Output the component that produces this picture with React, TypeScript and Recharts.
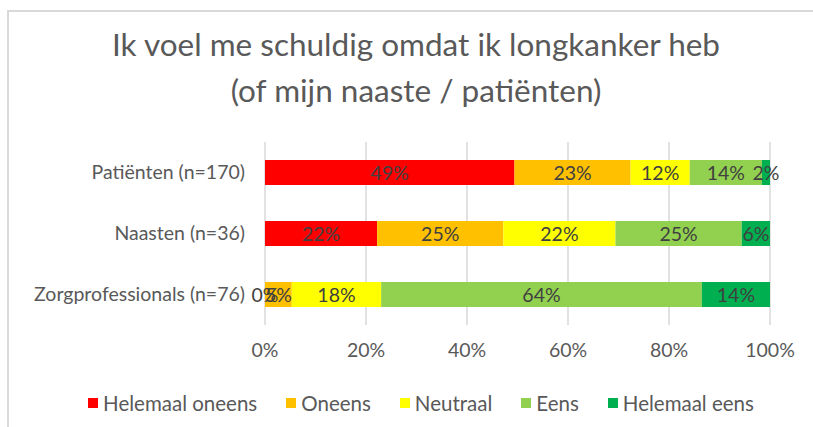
import { BarChart, Bar, XAxis, YAxis, CartesianGrid, Legend, LabelList } from 'recharts';

const groups = ['Patiënten (n=170)', 'Naasten (n=36)', 'Zorgprofessionals (n=76)'];
const helemaalOneens = [49.4, 22.2, 0];
const oneens = [23.0, 25.0, 5.3];
const neutraal = [11.7, 22.2, 17.7];
const eens = [14.3, 25.0, 63.5];
const helemaalEens = [1.6, 5.6, 13.5];
const xTicks = [0, 20, 40, 60, 80, 100];

const series = [
  { key: 'hOneens', name: 'Helemaal oneens', color: '#ff0000', values: helemaalOneens },
  { key: 'oneens', name: 'Oneens', color: '#ffc000', values: oneens },
  { key: 'neutraal', name: 'Neutraal', color: '#ffff00', values: neutraal },
  { key: 'eens', name: 'Eens', color: '#92d050', values: eens },
  { key: 'hEens', name: 'Helemaal eens', color: '#00b050', values: helemaalEens },
];

const data = groups.map((g, i) => {
  const row: Record<string, string | number> = { name: g };
  series.forEach((s) => {
    row[s.key] = s.values[i];
  });
  return row;
});

const FONT = "Lato, 'Open Sans', sans-serif";
const TEXT = '#595959';
const FS = 19.5;

function LegendContent() {
  return (
    <div
      style={{
        display: 'flex',
        justifyContent: 'center',
        gap: 29,
        paddingLeft: 72,
        fontFamily: FONT,
        fontSize: 20.5,
        color: TEXT,
        lineHeight: '24px',
      }}
    >
      {series.map((s) => (
        <div key={s.key} style={{ display: 'flex', alignItems: 'center' }}>
          <span style={{ width: 10, height: 10, background: s.color, display: 'inline-block', marginRight: 5 }} />
          {s.name}
        </div>
      ))}
    </div>
  );
}

function pctText(x: number, y: number, v: number, key: string) {
  return (
    <text
      key={key}
      x={x}
      y={y}
      textAnchor="middle"
      dominantBaseline="central"
      fontSize={FS}
      fill="#404040"
      fontFamily={FONT}
    >
      {`${Math.round(v)}%`}
    </text>
  );
}

// Zero-width segments get no rect from Recharts, so their label is drawn
// by the next series at its start edge.
function makeLabel(seriesIdx: number) {
  return (props: any) => {
    const { x, y, width, height, value, index } = props;
    const cy = Number(y) + Number(height) / 2;
    const out = [];
    if (seriesIdx > 0 && series[seriesIdx - 1].values[index] === 0) {
      out.push(pctText(Number(x), cy, 0, 'zero'));
    }
    if (value !== undefined && value !== null) {
      out.push(pctText(Number(x) + Number(width) / 2, cy, Number(value), 'v'));
    }
    return <g>{out}</g>;
  };
}

export default function App() {
  return (
    <div style={{ position: 'absolute', left: 0, top: 0, width: 813, height: 427, background: '#fff', overflow: 'hidden' }}>
      <div
        style={{
          position: 'absolute',
          left: 7,
          top: 10,
          width: 830,
          height: 440,
          borderLeft: '2px solid #d9d9d9',
          borderTop: '2px solid #d9d9d9',
        }}
      />
      <div
        style={{
          position: 'absolute',
          left: 0,
          top: 21,
          width: 832,
          textAlign: 'center',
          fontFamily: FONT,
          fontSize: 31.5,
          lineHeight: '46px',
          color: TEXT,
        }}
      >
        Ik voel me schuldig omdat ik longkanker heb
        <br />
        (of mijn naaste / patiënten)
      </div>
      <div style={{ position: 'absolute', left: 0, top: 0 }}>
        <BarChart
          width={813}
          height={427}
          data={data}
          layout="vertical"
          barSize={25}
          margin={{ top: 142, right: 43, bottom: 12, left: 0 }}
        >
          <CartesianGrid horizontal={false} stroke="#d9d9d9" strokeWidth={1.5} />
          <XAxis
            type="number"
            domain={[0, 100]}
            ticks={xTicks}
            tickFormatter={(v) => `${v}%`}
            axisLine={false}
            tickLine={false}
            tickSize={0}
            tickMargin={18}
            height={66}
            tick={{ fontSize: FS, fill: TEXT, fontFamily: FONT }}
          />
          <YAxis
            type="category"
            dataKey="name"
            width={265}
            axisLine={false}
            tickLine={false}
            tickSize={0}
            tickMargin={20}
            tick={{ fontSize: FS, fill: TEXT, fontFamily: FONT }}
          />
          <Legend verticalAlign="bottom" height={24} content={<LegendContent />} />
          {series.map((s, si) => (
            <Bar key={s.key} dataKey={s.key} name={s.name} stackId="a" fill={s.color} isAnimationActive={false}>
              <LabelList dataKey={s.key} content={makeLabel(si)} />
            </Bar>
          ))}
        </BarChart>
      </div>
    </div>
  );
}
